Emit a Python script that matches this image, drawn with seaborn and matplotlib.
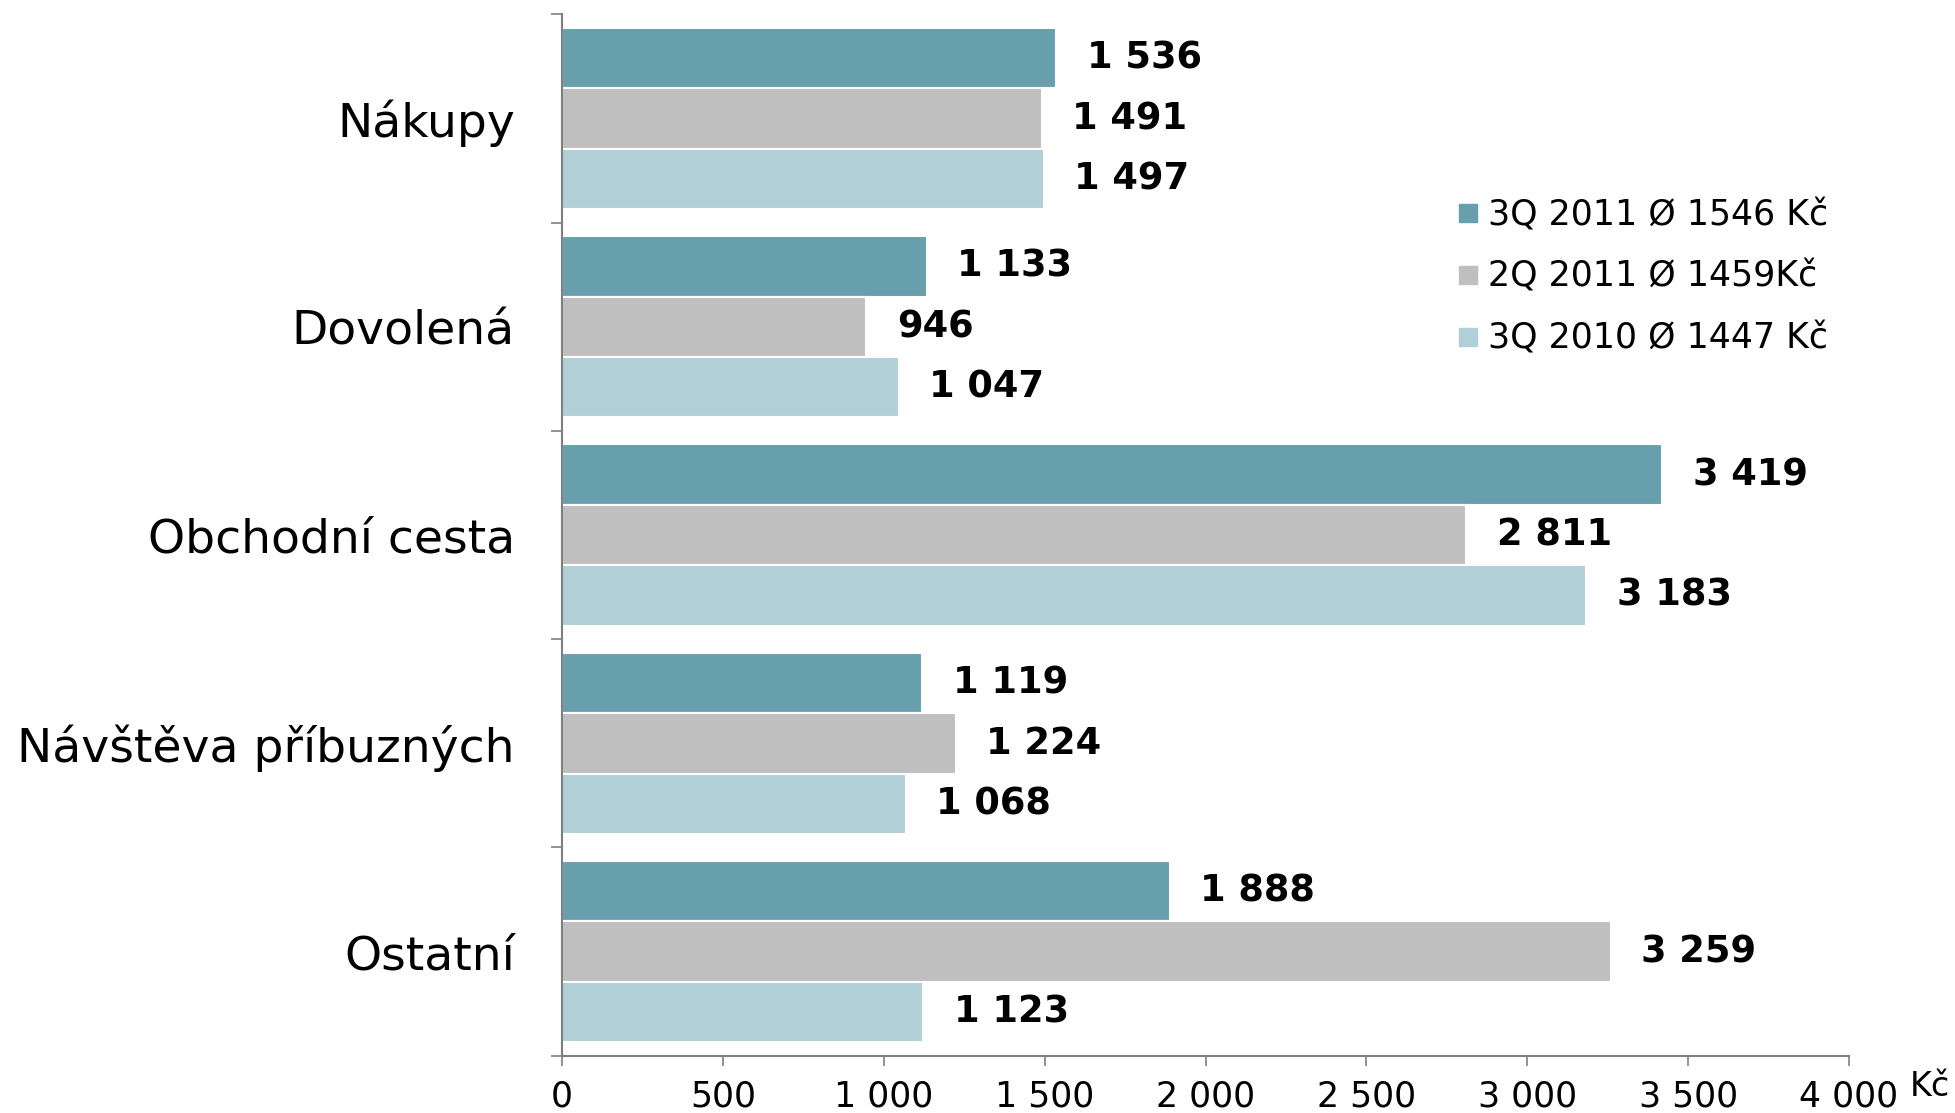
import matplotlib
matplotlib.use("Agg")
import matplotlib.pyplot as plt
from matplotlib.lines import Line2D
from matplotlib.ticker import FixedLocator, MultipleLocator, FuncFormatter
import pandas as pd
import seaborn as sns

categories = ["Nákupy", "Dovolená", "Obchodní cesta", "Návštěva příbuzných", "Ostatní"]
series = ["3Q 2011 Ø 1546 Kč", "2Q 2011 Ø 1459Kč", "3Q 2010 Ø 1447 Kč"]
q3_2011 = [1536, 1133, 3419, 1119, 1888]
q2_2011 = [1491, 946, 2811, 1224, 3259]
q3_2010 = [1497, 1047, 3183, 1068, 1123]
colors = ["#689FAD", "#BFBFBF", "#B0CFD6"]

rows = []
for name, vals in zip(series, [q3_2011, q2_2011, q3_2010]):
    for cat, v in zip(categories, vals):
        rows.append({"kategorie": cat, "serie": name, "hodnota": v})
df = pd.DataFrame(rows)

sns.set_theme(style="white")
plt.rcParams["font.family"] = ["DejaVu Sans"]
plt.rcParams["text.color"] = "black"
plt.rcParams["xtick.color"] = "black"
plt.rcParams["ytick.color"] = "black"

fig = plt.figure(figsize=(19.55, 11.13), dpi=100)
ax = fig.add_axes([0.2875, 0.0515, 0.9458 - 0.2875, 0.987 - 0.0515])

sns.barplot(data=df, y="kategorie", x="hodnota", hue="serie", order=categories,
            hue_order=series, palette=colors, orient="h", width=0.87,
            edgecolor="white", linewidth=1.5, saturation=1, legend=False, ax=ax)


def thousands(v):
    s = f"{int(round(v)):,}"
    return s.replace(",", " ")


for container in ax.containers:
    for bar in container:
        w = bar.get_width()
        y = bar.get_y() + bar.get_height() / 2
        ax.annotate(thousands(w), xy=(w, y), xytext=(22, 0), textcoords="offset points",
                    ha="left", va="center", fontsize=26.5, fontweight="bold", color="black")

ax.set_xlim(0, 4000)
ax.set_ylim(len(categories) - 0.5, -0.5)
ax.xaxis.set_major_locator(MultipleLocator(500))
ax.xaxis.set_major_formatter(FuncFormatter(lambda v, p: thousands(v)))
ax.set_xlabel("")
ax.set_ylabel("")

ax.yaxis.set_minor_locator(FixedLocator([i - 0.5 for i in range(len(categories) + 1)]))
ax.tick_params(axis="y", which="major", length=0, pad=34, labelsize=34)
ax.tick_params(axis="y", which="minor", left=True, length=8, width=1.2, color="#7f7f7f")
ax.tick_params(axis="x", which="major", bottom=True, length=7.5, width=1.2,
               color="#7f7f7f", pad=10, labelsize=25)

for side in ["top", "right"]:
    ax.spines[side].set_visible(False)
for side in ["left", "bottom"]:
    ax.spines[side].set_color("#7f7f7f")
    ax.spines[side].set_linewidth(1.5)

fig.text(0.9872, 0.0235, "Kč", fontsize=24, ha="center", va="center")

handles = [Line2D([], [], marker="s", linestyle="none", markersize=13,
                  markerfacecolor=c, markeredgecolor=c) for c in colors]
fig.legend(handles, series, loc="upper left", bbox_to_anchor=(0.744, 0.822),
           frameon=False, fontsize=25, handletextpad=0.15, labelspacing=0.80,
           borderaxespad=0, borderpad=0, handlelength=0.8)

fig.savefig("out.png", dpi=100)
